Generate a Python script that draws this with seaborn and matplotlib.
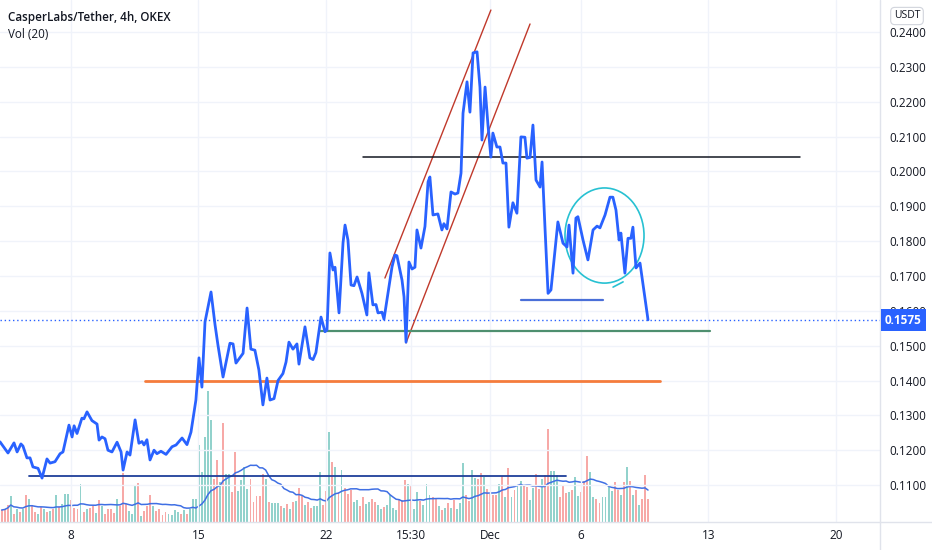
import numpy as np
import pandas as pd
import matplotlib
matplotlib.use("Agg")
import matplotlib.pyplot as plt
import seaborn as sns
from matplotlib.patches import Ellipse
from matplotlib.lines import Line2D

# ---------------- data ----------------
# time in days since 1 Nov (00:00); price close of CSPR/USDT 4h
days = [3.10, 3.54, 3.87, 4.04, 4.25, 4.36, 4.58, 4.75, 4.91, 5.19, 5.41, 5.68, 5.85, 6.12, 6.40, 6.56,
        6.89, 7.06, 7.17, 7.33, 7.60, 7.71, 7.88, 8.15, 8.43, 8.54, 8.70, 8.87, 9.03, 9.25, 9.53, 9.75,
        9.86, 10.08, 10.24, 10.52, 10.73, 10.90, 11.01, 11.17, 11.34, 11.56, 11.72, 11.94, 12.22, 12.55,
        12.77, 13.10, 13.37, 13.59, 13.86, 14.03, 14.19, 14.36, 14.69, 14.91, 15.07, 15.35, 15.73, 15.90,
        16.06, 16.45, 16.67, 16.88, 17.10, 17.32, 17.54, 17.76, 17.93, 18.15, 18.37, 18.64, 18.81, 18.97,
        19.19, 19.41, 19.52, 19.85, 20.12, 20.29, 20.45, 20.73, 20.95, 21.06, 21.22, 21.39, 21.50, 21.72,
        21.94, 22.05, 22.21, 22.38, 22.54, 22.71, 22.98, 23.25, 23.36, 23.58, 23.75, 23.86, 24.08, 24.19,
        24.41, 24.63, 24.79, 24.90, 25.18, 25.29, 25.40, 25.56, 25.73, 25.89, 26.00, 26.22, 26.44, 26.61,
        26.71, 26.88, 27.15, 27.37, 27.48, 27.65, 27.87, 28.09, 28.25, 28.42, 28.53, 28.75, 28.91, 29.08,
        29.30, 29.46, 29.57, 29.74, 29.90, 30.06, 30.17, 30.39, 30.56, 30.72, 30.89, 31.05, 31.27, 31.49,
        31.71, 31.93, 32.04, 32.21, 32.37, 32.54, 32.76, 32.87, 33.03, 33.20, 33.36, 33.74, 34.02, 34.24,
        34.35, 34.57, 34.73, 34.84, 35.12, 35.39, 35.67, 35.89, 36.05, 36.33, 36.60, 36.76, 36.93, 37.10,
        37.20, 37.42, 37.59, 37.75, 37.86, 38.03, 38.25, 38.69]
close = [0.1224, 0.1192, 0.1221, 0.1195, 0.1218, 0.1212, 0.1178, 0.1178, 0.1152, 0.1148, 0.1120, 0.1175,
         0.1163, 0.1167, 0.1190, 0.1195, 0.1272, 0.1238, 0.1270, 0.1248, 0.1292, 0.1290, 0.1310, 0.1285,
         0.1275, 0.1229, 0.1238, 0.1233, 0.1200, 0.1195, 0.1223, 0.1195, 0.1143, 0.1195, 0.1186, 0.1287,
         0.1220, 0.1225, 0.1215, 0.1230, 0.1172, 0.1200, 0.1190, 0.1197, 0.1188, 0.1210, 0.1215, 0.1235,
         0.1216, 0.1252, 0.1344, 0.1465, 0.1381, 0.1568, 0.1654, 0.1560, 0.1502, 0.1410, 0.1507, 0.1505,
         0.1450, 0.1478, 0.1608, 0.1490, 0.1487, 0.1430, 0.1330, 0.1407, 0.1344, 0.1348, 0.1400, 0.1420,
         0.1453, 0.1510, 0.1490, 0.1505, 0.1447, 0.1554, 0.1465, 0.1460, 0.1480, 0.1582, 0.1540, 0.1545,
         0.1766, 0.1717, 0.1725, 0.1594, 0.1795, 0.1846, 0.1803, 0.1674, 0.1672, 0.1697, 0.1650, 0.1588,
         0.1709, 0.1617, 0.1618, 0.1594, 0.1596, 0.1576, 0.1650, 0.1726, 0.1760, 0.1758, 0.1688, 0.1640,
         0.1510, 0.1740, 0.1720, 0.1725, 0.1832, 0.1780, 0.1842, 0.1970, 0.1984, 0.1875, 0.1878, 0.1832,
         0.1850, 0.1835, 0.1941, 0.1935, 0.1938, 0.1995, 0.2167, 0.2257, 0.2170, 0.2340, 0.2343, 0.2242,
         0.2090, 0.2242, 0.2133, 0.2041, 0.2110, 0.2070, 0.2070, 0.2024, 0.2024, 0.1840, 0.1910, 0.1880,
         0.2099, 0.2098, 0.2038, 0.2040, 0.2133, 0.1975, 0.1955, 0.2027, 0.1840, 0.1650, 0.1660, 0.1855,
         0.1794, 0.1783, 0.1846, 0.1708, 0.1866, 0.1870, 0.1803, 0.1746, 0.1832, 0.1843, 0.1838, 0.1875,
         0.1926, 0.1926, 0.1889, 0.1803, 0.1823, 0.1708, 0.1808, 0.1808, 0.1840, 0.1723, 0.1737, 0.1574]
last_price = 0.1575

# volume (thousands) per 4h bar, first bar at day 3.19; g = up bar, r = down bar
vol_first_day = 3.19
vol = [12, 13, 17, 26, 8, 13, 10, 13, 27, 23,
       17, 10, 8, 15, 13, 10, 11, 13, 27, 15,
       18, 28, 28, 22, 14, 13, 38, 10, 13, 14,
       16, 9, 22, 16, 8, 13, 13, 9, 23, 16,
       49, 18, 11, 8, 37, 39, 6, 11, 16, 27,
       16, 11, 13, 7, 10, 8, 7, 12, 10, 8,
       12, 8, 13, 23, 23, 77, 50, 85, 131, 102,
       43, 62, 40, 99, 48, 48, 30, 70, 31, 42,
       55, 33, 43, 20, 26, 26, 48, 43, 20, 19,
       19, 19, 16, 14, 18, 13, 20, 21, 34, 26,
       17, 20, 14, 16, 16, 50, 17, 31, 90, 60,
       55, 30, 52, 34, 28, 32, 20, 22, 16, 25,
       18, 20, 23, 20, 17, 13, 15, 17, 27, 14,
       12, 22, 22, 42, 38, 37, 13, 30, 21, 17,
       38, 27, 25, 24, 16, 12, 14, 19, 14, 22,
       13, 19, 59, 27, 21, 52, 44, 43, 49, 45,
       33, 28, 27, 27, 38, 46, 25, 54, 25, 32,
       36, 41, 36, 35, 22, 34, 48, 33, 43, 47,
       93, 51, 51, 47, 25, 37, 29, 30, 32, 45,
       26, 30, 41, 66, 50, 25, 23, 19, 25, 25,
       37, 31, 40, 32, 27, 40, 55, 41, 27, 32,
       17, 23, 47, 23]
vol_dir = ("rrrgrgrgrg" "rrgrgrgrgr" "gggrrrgrgr" "rgrgrrrrgr" "rrgggrgrrr" "grrrrggggr"
           "grgggggggg" "rrgrggrrgg" "ggrrrrrgrg" "ggrgrgrgrr" "grrgggrrgr" "grgrrrggrr"
           "ggrrggrggg" "grrrgrggrg" "ggrrgrgrgr" "gggrrggrrg" "rrrrgrgrgr" "ggrrggrrgr"
           "rgggrrrgrg" "grrrggrrgg" "ggrrgrgrgr" "grrr")

# axis ticks
price_ticks = [0.11, 0.12, 0.13, 0.14, 0.15, 0.16, 0.17, 0.18, 0.19, 0.20, 0.21, 0.22, 0.23, 0.24]
date_ticks = [7, 14, 21, 25.646, 30, 35, 42, 49]
date_labels = ["8", "15", "22", "15:30", "Dec", "6", "13", "20"]

# hand drawings (day, price)
channel_lines = [((24.24, 0.1694), (30.06, 0.2463)), ((25.40, 0.1508), (32.21, 0.2423))]
hlines = [  # (start day, end day, price, color, width)
    (23.04, 47.04, 0.2041, "#131722", 1.1),
    (20.67, 42.09, 0.1542, "#4e8f6f", 1.6),
    (11.06, 39.35, 0.1399, "#f57c3c", 2.0),
    (4.69, 34.19, 0.1127, "#1f3f9a", 1.3),
    (31.71, 36.22, 0.1631, "#4a6fd8", 1.6),
]
circle_center = (36.30, 0.1816)
circle_size = (4.34, 0.0273)
circle_tail = ((36.77, 37.32), (0.1668, 0.1683))

title = "CasperLabs/Tether, 4h, OKEX"
subtitle = "Vol (20)"

# ---------------- style ----------------
sns.set_theme(style="white")
plt.rcParams["font.family"] = ["Open Sans", "DejaVu Sans"]
txt = "#131722"
grid_c = "#f0f3fa"
sep_c = "#e0e3eb"

W, H = 932, 550
fig = plt.figure(figsize=(W / 100, H / 100), dpi=100)
rect = [0, 28 / H, 880 / W, 522 / H]
axv = fig.add_axes(rect)
ax = fig.add_axes(rect)
ax.patch.set_alpha(0)

xmin, xmax = 3.101, 51.43
ymin, ymax = 0.0994, 0.24918

# ---- volume pane ----
vdf = pd.DataFrame({"vol": vol, "dir": list(vol_dir)})
vdf["day"] = vol_first_day + np.arange(len(vdf)) / 6.0
vdf["ma"] = vdf["vol"].rolling(20, min_periods=1).mean()
colors = np.where(vdf["dir"] == "g", "#92d2cc", "#f7a9a7")
axv.bar(vdf["day"], vdf["vol"], width=0.105, color=colors, linewidth=0)
sns.lineplot(data=vdf, x="day", y="ma", ax=axv, color="#3f6fe4", linewidth=1.1, estimator=None)
axv.set_xlim(xmin, xmax)
axv.set_ylim(0, max(vol) * 3.985)
axv.axis("off")

# ---- price pane ----
for t in price_ticks:
    ax.axhline(t, color=grid_c, lw=1, zorder=0)
for t in date_ticks:
    ax.axvline(t, color=grid_c, lw=1, zorder=0)

ax.axhline(last_price, color="#2962ff", lw=1, ls=(0, (1, 2)), zorder=1)

for (x0, y0), (x1, y1) in channel_lines:
    ax.add_line(Line2D([x0, x1], [y0, y1], color="#c0392b", lw=1.0, zorder=3))
for x0, x1, p, c, w in hlines:
    ax.add_line(Line2D([x0, x1], [p, p], color=c, lw=w, zorder=3))
ax.add_patch(Ellipse(circle_center, circle_size[0], circle_size[1], fill=False,
                     edgecolor="#27c1d2", lw=1.2, zorder=3))
ax.add_line(Line2D(circle_tail[0], circle_tail[1], color="#27c1d2", lw=1.2, zorder=3))

pdf = pd.DataFrame({"day": days, "close": close})
sns.lineplot(data=pdf, x="day", y="close", ax=ax, color="#2962ff", linewidth=2,
             estimator=None, sort=False, zorder=4)

ax.set_xlim(xmin, xmax)
ax.set_ylim(ymin, ymax)
ax.set_xlabel("")
ax.set_ylabel("")
ax.yaxis.tick_right()
ax.set_yticks(price_ticks)
ax.set_yticklabels([f"{t:.4f}" for t in price_ticks])
ax.set_xticks(date_ticks)
ax.set_xticklabels(date_labels)
ax.tick_params(axis="y", length=0, pad=6.5, labelsize=8.5, labelcolor=txt)
ax.tick_params(axis="x", length=0, pad=5, labelsize=8.5, labelcolor=txt)
for s in ax.spines.values():
    s.set_visible(False)

# separators of price scale / time scale
fig.add_artist(Line2D([880 / W, 880 / W], [0, 1], color=sep_c, lw=1))
fig.add_artist(Line2D([0, 1], [28 / H, 28 / H], color=sep_c, lw=1))

# header texts
fig.text(8 / W, 1 - 17 / H, title, fontsize=8.4, fontweight="semibold", color=txt, va="center")
fig.text(8 / W, 1 - 34 / H, subtitle, fontsize=8.4, color=txt, va="center")

# price-scale label boxes
fig.text(885 / W, 1 - 320 / H, f"{last_price:.4f}", fontsize=8.5, fontweight="bold", color="white",
         va="center", ha="left",
         bbox=dict(boxstyle="square,pad=0.35", fc="#2962ff", ec="none"))
fig.text(907 / W, 1 - 16 / H, "USDT", fontsize=7.5, color=txt, va="center", ha="center",
         bbox=dict(boxstyle="round,pad=0.3,rounding_size=0.4", fc="white", ec="#d1d4dc", lw=0.8))

fig.savefig("out.png", dpi=100)
